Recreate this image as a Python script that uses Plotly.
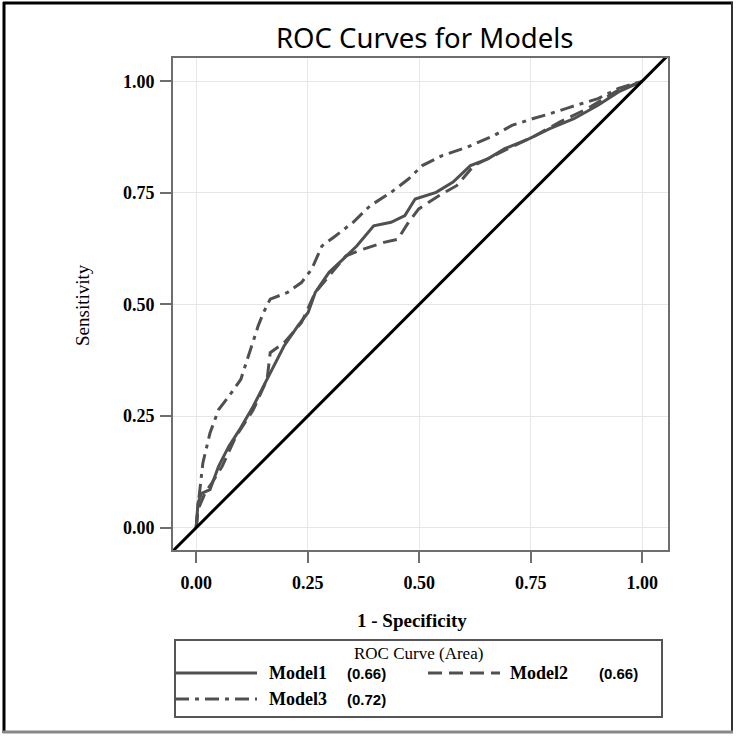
import plotly.graph_objects as go

# ---------------- data ----------------
model1_fpr = [0, 0.004, 0.012, 0.031, 0.05, 0.073, 0.097, 0.128, 0.151, 0.174, 0.197, 0.228, 0.251,
              0.267, 0.298, 0.329, 0.36, 0.398, 0.437, 0.468, 0.491, 0.538, 0.576, 0.615, 0.654,
              0.692, 0.746, 0.793, 0.847, 0.901, 0.947, 1.0]
model1_tpr = [0, 0.055, 0.077, 0.085, 0.137, 0.182, 0.219, 0.272, 0.317, 0.362, 0.407, 0.452, 0.482,
              0.527, 0.572, 0.601, 0.631, 0.676, 0.684, 0.699, 0.736, 0.751, 0.774, 0.811, 0.826,
              0.849, 0.871, 0.894, 0.916, 0.946, 0.976, 1.0]

model2_fpr = [0, 0.004, 0.02, 0.035, 0.058, 0.089, 0.128, 0.159, 0.166, 0.197, 0.236, 0.267, 0.298,
              0.336, 0.375, 0.421, 0.452, 0.476, 0.499, 0.545, 0.584, 0.623, 0.669, 0.715, 0.762,
              0.816, 0.878, 0.94, 1.0]
model2_tpr = [0, 0.04, 0.078, 0.1, 0.137, 0.204, 0.264, 0.332, 0.392, 0.414, 0.459, 0.527, 0.564,
              0.609, 0.624, 0.639, 0.646, 0.684, 0.714, 0.744, 0.766, 0.811, 0.834, 0.856, 0.879,
              0.909, 0.939, 0.976, 1.0]

model3_fpr = [0, 0.004, 0.015, 0.031, 0.05, 0.073, 0.1, 0.12, 0.139, 0.151, 0.166, 0.205, 0.236,
              0.259, 0.282, 0.313, 0.352, 0.39, 0.437, 0.476, 0.507, 0.553, 0.607, 0.669, 0.708,
              0.754, 0.793, 0.839, 0.901, 0.947, 1.0]
model3_tpr = [0, 0.047, 0.145, 0.212, 0.264, 0.294, 0.332, 0.392, 0.452, 0.482, 0.512, 0.527, 0.549,
              0.579, 0.631, 0.654, 0.684, 0.721, 0.751, 0.781, 0.811, 0.834, 0.852, 0.879, 0.901,
              0.916, 0.927, 0.942, 0.961, 0.984, 1.0]

ref_line = [-0.06, 1.06]

model_names = ["Model1", "Model2", "Model3"]
model_auc = ["(0.66)", "(0.66)", "(0.72)"]
tick_vals = [0, 0.25, 0.5, 0.75, 1.0]
tick_text = ["0.00", "0.25", "0.50", "0.75", "1.00"]

# ---------------- styling ----------------
W = H = 737
ML, MR, MT, MB = 173, 69, 58, 187
PW = W - ML - MR
PH = H - MT - MB
CURVE_COLOR = "#505050"
DASHES = ["solid", "14px,7px", "14px,6px,4px,6px"]
SERIF = "Liberation Serif"


def px_x(p):
    return (p - ML) / PW


def px_y(p):
    return (H - MB - p) / PH


fig = go.Figure()

series = [(model1_fpr, model1_tpr), (model2_fpr, model2_tpr), (model3_fpr, model3_tpr)]
for (xs, ys), name, dash in zip(series, model_names, DASHES):
    fig.add_trace(go.Scatter(x=xs, y=ys, mode="lines", name=name,
                             line=dict(color=CURVE_COLOR, width=3, dash=dash),
                             showlegend=False))

fig.add_trace(go.Scatter(x=ref_line, y=ref_line, mode="lines",
                         line=dict(color="black", width=3), showlegend=False))

axis_common = dict(
    tickvals=tick_vals, ticktext=tick_text,
    showgrid=True, gridcolor="#e6e6e6", gridwidth=1,
    zeroline=False, showline=True, linecolor="#6e6e6e", linewidth=2, mirror=True,
    ticks="outside", ticklen=11, tickcolor="#6e6e6e", tickwidth=2,
    tickfont=dict(family=SERIF, size=18, color="black", weight="bold"),
)
fig.update_xaxes(range=[-0.052, 1.058], ticklabelstandoff=4, **axis_common)
fig.update_yaxes(range=[-0.05, 1.052], ticklabelstandoff=2, **axis_common)

annotations = [
    dict(text="ROC Curves for Models", x=px_x(425), y=px_y(38), xref="paper", yref="paper",
         showarrow=False, font=dict(family="Noto Sans", size=27.5, color="black"),
         xanchor="center", yanchor="middle"),
    dict(text="Sensitivity", x=px_x(82), y=px_y(305), xref="paper", yref="paper",
         showarrow=False, textangle=-90, font=dict(family=SERIF, size=19, color="black"),
         xanchor="center", yanchor="middle"),
    dict(text="1 - Specificity", x=px_x(412), y=px_y(620), xref="paper", yref="paper",
         showarrow=False, font=dict(family=SERIF, size=19, color="black", weight="bold"),
         xanchor="center", yanchor="middle"),
    dict(text="ROC Curve (Area)", x=px_x(418), y=px_y(653), xref="paper", yref="paper",
         showarrow=False, font=dict(family=SERIF, size=17, color="black"),
         xanchor="center", yanchor="middle"),
]

shapes = [
    # legend box
    dict(type="rect", xref="paper", yref="paper", x0=px_x(175), x1=px_x(662),
         y0=px_y(717), y1=px_y(640), line=dict(color="#555555", width=2)),
    # outer frame
    dict(type="line", xref="paper", yref="paper", x0=px_x(4), x1=px_x(4), y0=px_y(2), y1=px_y(733),
         line=dict(color="black", width=3)),
    dict(type="line", xref="paper", yref="paper", x0=px_x(3), x1=px_x(733), y0=px_y(3), y1=px_y(3),
         line=dict(color="black", width=3)),
    dict(type="line", xref="paper", yref="paper", x0=px_x(732), x1=px_x(732), y0=px_y(2), y1=px_y(733),
         line=dict(color="#333333", width=2)),
    dict(type="line", xref="paper", yref="paper", x0=px_x(3), x1=px_x(733), y0=px_y(732), y1=px_y(732),
         line=dict(color="#888888", width=3)),
]

# legend entries: (sample x0, sample x1, row y, name x, auc x)
legend_pos = [(175, 257, 673, 267, 345), (428, 500, 673, 508, 597), (175, 257, 699, 267, 345)]
for name, auc, dash, (sx0, sx1, ry, nx, ax) in zip(model_names, model_auc, DASHES, legend_pos):
    shapes.append(dict(type="line", xref="paper", yref="paper", x0=px_x(sx0), x1=px_x(sx1),
                       y0=px_y(ry), y1=px_y(ry), line=dict(color=CURVE_COLOR, width=3, dash=dash)))
    annotations.append(dict(text=name, x=px_x(nx), y=px_y(ry), xref="paper", yref="paper",
                            showarrow=False, xanchor="left", yanchor="middle",
                            font=dict(family=SERIF, size=18, color="black", weight="bold")))
    annotations.append(dict(text=auc, x=px_x(ax), y=px_y(ry), xref="paper", yref="paper",
                            showarrow=False, xanchor="left", yanchor="middle",
                            font=dict(family="Liberation Sans", size=15, color="black", weight="bold")))

fig.update_layout(
    width=W, height=H,
    margin=dict(l=ML, r=MR, t=MT, b=MB, autoexpand=False),
    paper_bgcolor="white", plot_bgcolor="white",
    showlegend=False,
    annotations=annotations,
    shapes=shapes,
)

fig.write_html("out.html", config={"displayModeBar": False},
               post_script="document.body.style.margin='0';document.body.style.overflow='hidden';")
